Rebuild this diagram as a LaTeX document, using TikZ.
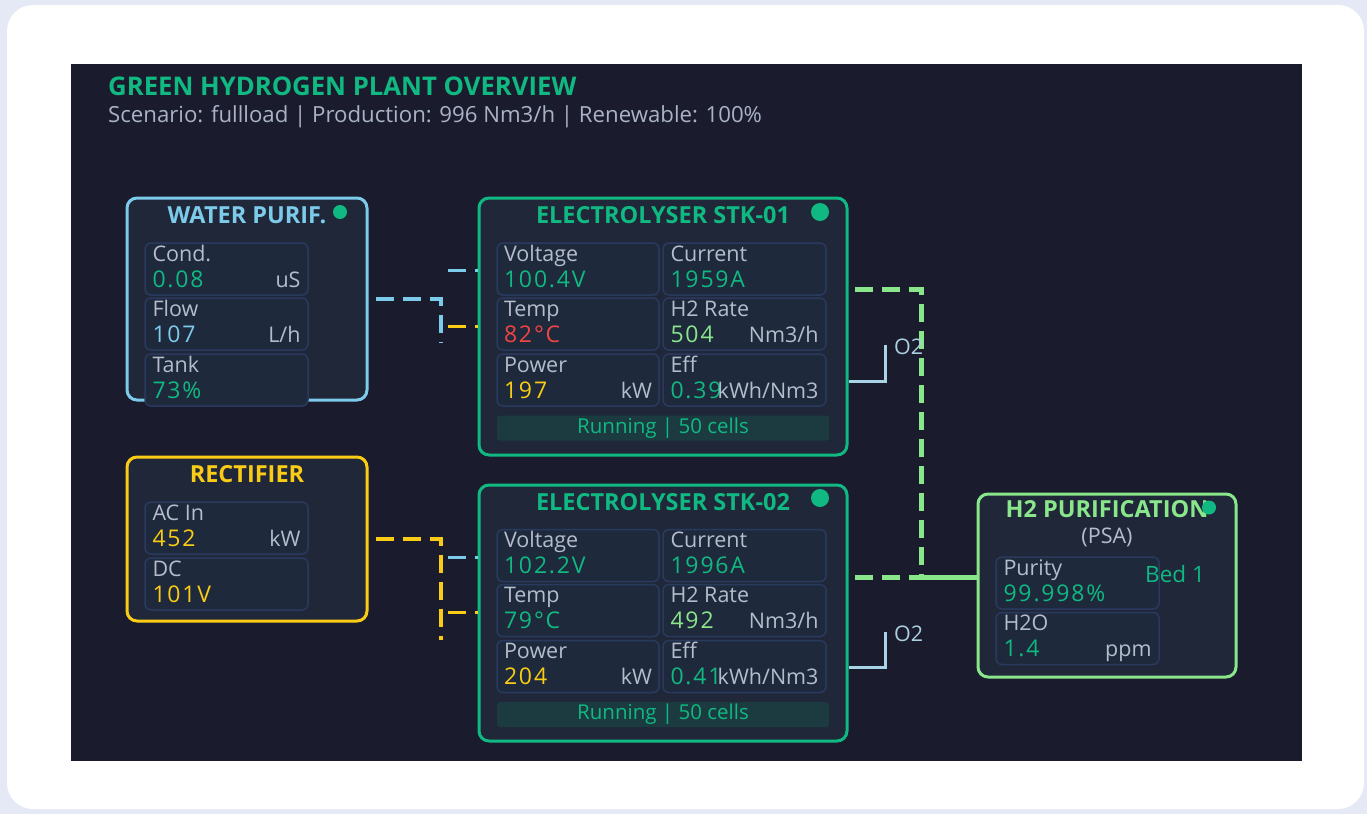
\documentclass[tikz,border=0pt]{standalone}
\usepackage{fontspec}
\setmainfont{Open Sans}
\newfontfamily\valfont[LetterSpace=8]{Open Sans}
\usepackage{tikz}
\usetikzlibrary{positioning}

\definecolor{pagebg}{HTML}{E4E9F5}
\definecolor{panel}{HTML}{1B1B2E}
\definecolor{boxfill}{HTML}{1F2739}
\definecolor{cellfill}{HTML}{1E293C}
\definecolor{cellline}{HTML}{2A3A5E}
\definecolor{statfill}{HTML}{1B3B41}
\definecolor{grn}{HTML}{10B981}
\definecolor{lgrn}{HTML}{8AE68A}
\definecolor{sky}{HTML}{7DCBEA}
\definecolor{ylw}{HTML}{FACC15}
\definecolor{red}{HTML}{EF4444}
\definecolor{gry}{HTML}{B4BDCC}
\definecolor{subgry}{HTML}{A9B3C5}
\definecolor{o2c}{HTML}{A8D4E6}

% value line of a cell: colour, value, unit
\newcommand\cellval[3]{\strut\makebox[148pt][s]{\rlap{\textcolor{#1}{\valfont\fontsize{23}{26}\selectfont #2}}\hfill #3}}

\begin{document}
\begin{tikzpicture}[x=1pt, y=-1pt,
unitbox/.style={draw, line width=3pt, rounded corners=10pt, fill=boxfill, inner sep=0pt},
cell/.style={draw=cellline, fill=cellfill, line width=1.5pt, rounded corners=6pt, minimum width=163pt, minimum height=52pt, inner sep=0pt, align=left},
boxtitle/.style={font=\bfseries\fontsize{23.5}{26}\selectfont, anchor=base},
dot/.style={circle, fill=grn, inner sep=0pt, minimum size=14pt},
statusbar/.style={fill=statfill, rounded corners=3pt, minimum width=332pt, minimum height=25pt, inner sep=0pt, text=grn, font=\fontsize{20.5}{24}\selectfont},
pipe/.style={line width=4pt, dash pattern=on 18pt off 9pt},
feed/.style={line width=3pt, dash pattern=on 18pt off 9pt},
h2pipe/.style={draw=lgrn, line width=5pt, dash pattern=on 18pt off 9pt},
o2pipe/.style={draw=o2c, line width=3pt}]
\tikzstyle{every node}=[font=\fontsize{21.5}{26}\selectfont, text=gry, inner sep=0pt]
\useasboundingbox (0,0) rectangle (1367,814);
\fill[pagebg] (0,0) rectangle (1367,814);
\fill[white, rounded corners=26pt] (7,5) rectangle (1364,809);
\fill[panel] (71,64) rectangle (1302,761);

\node[anchor=base west, text=grn, font=\bfseries\fontsize{25.7}{28}\selectfont] (title) at (108,95) {GREEN HYDROGEN PLANT OVERVIEW};
\node[anchor=base west, text=subgry, font=\fontsize{22.2}{26}\selectfont] (subtitle) at (108,122) {Scenario: fullload | Production: 996 Nm3/h | Renewable: 100\%};

% water purification
\node[unitbox, draw=sky, minimum width=240pt, minimum height=202pt] (water) at (247,299) {};
\node[boxtitle, text=sky] (watertitle) at ([yshift=-26.5pt]water.north) {WATER PURIF.};
\node[dot] (waterdot) at (340,212) {};
\node[cell] (cond) at (226.5,269) {\strut Cond.\\\cellval{grn}{0.08}{uS}};
\node[cell] (flow) at (226.5,324) {\strut Flow\\\cellval{sky}{107}{L/h}};
\node[cell] (tank) at (226.5,380) {\strut Tank\\\cellval{grn}{73\%}{}};

% rectifier
\node[unitbox, draw=ylw, minimum width=240pt, minimum height=164pt] (rect) at (247,539) {};
\node[boxtitle, text=ylw] (recttitle) at ([yshift=-26.5pt]rect.north) {RECTIFIER};
\node[cell] (acin) at (226.5,528) {\strut AC In\\\cellval{ylw}{452}{kW}};
\node[cell] (dc) at (226.5,584) {\strut DC\\\cellval{ylw}{101V}{}};

% electrolyser 1
\node[unitbox, draw=grn, minimum width=368pt, minimum height=257pt] (stk1) at (663,326.5) {};
\node[boxtitle, text=grn] (stk1title) at ([yshift=-26.5pt]stk1.north) {ELECTROLYSER STK-01};
\node[dot, minimum size=18pt] (stk1dot) at (820,212) {};
\node[cell, minimum width=162pt] (volt1) at (578,269) {\strut Voltage\\\cellval{grn}{100.4V}{}};
\node[cell] (curr1) at (744.5,269) {\strut Current\\\cellval{grn}{1959A}{}};
\node[cell, minimum width=162pt] (temp1) at (578,324) {\strut Temp\\\cellval{red}{82°C}{}};
\node[cell] (rate1) at (744.5,324) {\strut H2 Rate\\\cellval{lgrn}{504}{Nm3/h}};
\node[cell, minimum width=162pt] (pow1) at (578,380) {\strut Power\\\cellval{ylw}{197}{kW}};
\node[cell] (eff1) at (744.5,380) {\strut Eff\\\cellval{grn}{0.39}{kWh/Nm3}};
\node[statusbar] (stat1) at (663,428) {Running | 50 cells};

% electrolyser 2
\node[unitbox, draw=grn, minimum width=368pt, minimum height=256pt] (stk2) at (663,613) {};
\node[boxtitle, text=grn] (stk2title) at ([yshift=-26.5pt]stk2.north) {ELECTROLYSER STK-02};
\node[dot, minimum size=18pt] (stk2dot) at (820,498) {};
\node[cell, minimum width=162pt] (volt2) at (578,555.5) {\strut Voltage\\\cellval{grn}{102.2V}{}};
\node[cell] (curr2) at (744.5,555.5) {\strut Current\\\cellval{grn}{1996A}{}};
\node[cell, minimum width=162pt] (temp2) at (578,610.5) {\strut Temp\\\cellval{grn}{79°C}{}};
\node[cell] (rate2) at (744.5,610.5) {\strut H2 Rate\\\cellval{lgrn}{492}{Nm3/h}};
\node[cell, minimum width=162pt] (pow2) at (578,666.5) {\strut Power\\\cellval{ylw}{204}{kW}};
\node[cell] (eff2) at (744.5,666.5) {\strut Eff\\\cellval{grn}{0.41}{kWh/Nm3}};
\node[statusbar] (stat2) at (663,714.5) {Running | 50 cells};

% H2 purification
\node[unitbox, draw=lgrn, minimum width=258pt, minimum height=183pt] (psa) at (1107,585.5) {};
\node[boxtitle, text=lgrn] (psatitle) at ([yshift=-24.5pt]psa.north) {H2 PURIFICATION};
\node[anchor=base] (psasub) at (1107,543) {(PSA)};
\node[dot] (psadot) at (1209,507.5) {};
\node[cell] (purity) at (1077.5,583) {\strut Purity\\\cellval{grn}{99.998\%}{}};
\node[cell] (h2o) at (1077.5,638.5) {\strut H2O\\\cellval{grn}{1.4}{ppm}};
\node[anchor=base west, text=grn, font=\fontsize{22.5}{26}\selectfont] (bed) at (1145,582) {Bed 1};

% water and power buses
\coordinate (wbus) at (441,343);
\coordinate (pbus) at (441,640);
\draw[pipe, sky] ([xshift=7pt]water.east) -| (wbus);
\draw[pipe, ylw] ([xshift=7pt]rect.east) -| (pbus);
\coordinate (w1) at (448,270);
\coordinate (p1) at (448,326);
\coordinate (w2) at (448,557);
\coordinate (p2) at (448,612);
\draw[feed, sky] (w1) -- (w1 -| stk1.west);
\draw[feed, ylw] (p1) -- (p1 -| stk1.west);
\draw[feed, sky] (w2) -- (w2 -| stk2.west);
\draw[feed, ylw] (p2) -- (p2 -| stk2.west);

% hydrogen out
\coordinate (h1) at (855,289);
\coordinate (h2) at (855,577);
\coordinate (h2bus) at (921,577);
\draw[h2pipe] (h1) -| (h2bus) -- (h2bus -| psa.west);
\draw[h2pipe] (h2) -- (h2 -| psa.west);

% oxygen vents
\coordinate (o1) at (849,381);
\coordinate (o1top) at (885,345);
\coordinate (o2) at (849,667);
\coordinate (o2top) at (885,632);
\draw[o2pipe] (o1) -| (o1top);
\draw[o2pipe] (o2) -| (o2top);
\node[anchor=base west, text=o2c!80!gry] (o1label) at (894,354) {O2};
\node[anchor=base west, text=o2c!80!gry] (o2label) at (894,641) {O2};
\end{tikzpicture}
\end{document}
